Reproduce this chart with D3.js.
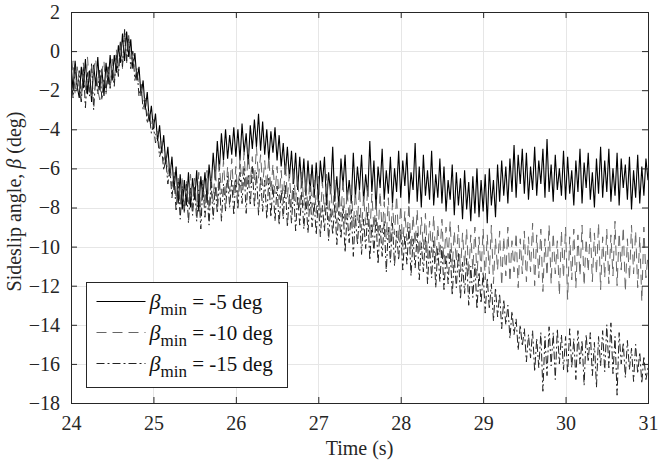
<!DOCTYPE html>
<html>
<head>
<meta charset="utf-8">
<script src="https://d3js.org/d3.v7.min.js"></script>
<style>
  body { margin: 0; background: #fff; }
  svg text { font-family: "Liberation Serif"; fill: #262626; }
</style>
</head>
<body>
<div id="chart"></div>
<script>
// sampling: first sample at 24 s, one sample every 0.025 s
var tStart = 24, tStep = 0.025;

var xTicks = [24, 25, 26, 27, 28, 29, 30, 31];
var yTicks = [2, 0, -2, -4, -6, -8, -10, -12, -14, -16, -18];

var legendLabels = ["-5 deg", "-10 deg", "-15 deg"];

// beta_min = -5 deg
var beta5 = [
  -0.6, -2.0, -0.5, -1.8, -2.4, -0.8, -1.9, -0.4, -2.2, -1.0, -2.6, -0.7, -1.8, -0.3, -2.0, -0.9, -2.3, -0.6, -1.7, -0.2,
  -1.5, -0.2, -1.1, 0.3, -0.6, 0.9, -0.5, 1.0, -0.3, 0.6, -0.9, -0.1, -1.5, -0.8, -2.3, -1.5, -3.0, -2.1, -3.6, -2.8,
  -4.0, -3.2, -4.6, -3.8, -5.2, -4.3, -5.8, -4.9, -6.4, -5.4, -7.1, -5.9, -7.8, -6.3, -8.1, -6.6, -7.9, -6.2, -8.0, -6.5,
  -7.6, -6.1, -8.2, -6.4, -7.5, -6.2, -7.6, -5.8, -7.0, -5.2, -6.6, -4.6, -6.1, -4.2, -5.6, -4.0, -5.5, -4.3, -5.3, -3.9,
  -5.4, -4.0, -5.6, -3.7, -5.2, -4.2, -5.8, -3.8, -5.0, -3.5, -4.9, -3.2, -5.1, -3.6, -5.3, -4.0, -5.6, -4.1, -5.2, -3.9,
  -5.6, -4.3, -5.9, -4.7, -6.3, -4.9, -6.5, -5.1, -6.8, -5.2, -7.1, -5.4, -7.0, -5.5, -7.4, -5.6, -7.2, -5.8, -7.5, -5.7,
  -7.6, -5.6, -6.8, -5.4, -7.9, -6.2, -7.3, -4.9, -7.7, -6.4, -8.0, -5.5, -6.9, -5.3, -7.6, -6.6, -7.8, -5.2, -7.5, -5.9,
  -7.1, -5.3, -7.7, -6.3, -7.4, -4.6, -7.2, -5.6, -8.1, -5.9, -7.0, -5.0, -7.6, -6.1, -7.3, -5.4, -7.8, -6.0, -7.2, -5.1,
  -7.5, -5.6, -6.9, -5.2, -7.8, -6.2, -7.1, -4.7, -7.7, -5.9, -8.0, -5.3, -7.4, -6.1, -7.6, -5.1, -7.9, -6.3, -7.5, -5.5,
  -7.8, -5.9, -8.2, -6.6, -7.6, -5.8, -8.4, -6.2, -7.9, -6.5, -8.6, -6.1, -8.1, -6.7, -8.7, -6.4, -8.3, -6.0, -8.5, -6.6,
  -8.2, -6.3, -8.8, -6.0, -7.9, -6.6, -8.5, -5.8, -7.7, -5.6, -7.4, -5.9, -7.8, -5.5, -7.2, -4.8, -7.5, -5.3, -6.8, -5.0,
  -7.3, -5.2, -7.6, -5.9, -7.1, -4.9, -7.4, -5.6, -6.8, -5.0, -7.5, -4.5, -7.2, -5.8, -7.7, -5.3, -7.1, -6.0, -7.4, -5.1,
  -7.6, -5.4, -7.3, -6.1, -7.9, -5.6, -7.2, -5.0, -7.8, -5.7, -7.0, -5.2, -7.6, -6.2, -8.0, -5.5, -7.3, -4.9, -7.5, -5.6,
  -7.2, -5.0, -7.7, -6.0, -7.4, -5.2, -7.9, -5.5, -7.0, -5.8, -7.6, -5.4, -8.1, -6.1, -7.5, -5.3, -7.8, -5.9, -7.4, -5.5,
  -6.6
];

// beta_min = -10 deg
var beta10 = [
  -1.8, -0.5, -2.2, -0.8, -1.9, -2.6, -0.6, -2.1, -0.3, -1.8, -2.3, -0.9, -0.4, -2.0, -2.5, -1.0, -0.5, -2.2, -0.7, -1.9,
  -0.4, -1.7, 0.1, -1.2, 0.6, -0.9, 1.1, -0.6, 0.7, -0.3, -0.4, -1.0, -1.1, -1.8, -1.9, -2.6, -2.4, -3.3, -3.0, -3.8,
  -3.5, -4.3, -4.1, -5.0, -4.6, -5.6, -5.2, -6.3, -5.7, -6.9, -6.2, -7.6, -6.5, -7.9, -6.4, -8.2, -6.6, -7.8, -6.3, -8.0,
  -6.5, -8.1, -6.2, -8.4, -6.6, -7.9, -6.1, -8.2, -6.4, -7.7, -5.9, -7.8, -5.8, -7.3, -5.6, -7.5, -5.9, -7.2, -5.5, -7.4,
  -5.9, -7.4, -5.5, -6.9, -5.2, -7.1, -5.0, -6.8, -5.4, -6.7, -4.9, -6.5, -5.3, -6.9, -5.6, -7.0, -5.4, -7.2, -5.8, -7.3,
  -5.9, -7.6, -6.1, -7.8, -5.7, -7.5, -6.3, -8.0, -6.0, -7.7, -6.4, -8.1, -6.2, -7.9, -6.5, -8.2, -6.3, -8.0, -6.6, -8.3,
  -6.4, -8.5, -6.7, -8.2, -6.3, -8.7, -6.9, -8.4, -6.6, -8.8, -7.0, -8.5, -6.5, -8.9, -7.1, -8.6, -6.8, -9.0, -7.2, -8.7,
  -7.0, -9.2, -7.4, -8.9, -6.9, -9.4, -7.3, -9.1, -7.6, -9.5, -7.2, -9.3, -7.7, -9.6, -7.5, -9.8, -7.8, -9.4, -7.4, -9.7,
  -7.9, -10.0, -8.2, -9.7, -7.8, -10.2, -8.4, -9.9, -8.1, -10.4, -8.5, -10.1, -8.3, -10.6, -8.7, -10.3, -8.4, -10.8, -8.9, -10.5,
  -8.6, -10.9, -9.0, -10.6, -8.7, -11.1, -9.2, -10.8, -8.9, -11.3, -9.3, -11.0, -9.1, -11.5, -9.4, -11.2, -9.0, -11.6, -9.5, -11.3,
  -9.1, -11.7, -9.4, -11.4, -8.9, -11.9, -9.6, -11.2, -9.2, -12.0, -9.5, -11.5, -9.0, -11.8, -9.7, -11.3, -9.3, -12.1, -9.6, -11.4,
  -9.2, -11.8, -9.5, -11.3, -8.8, -12.0, -9.4, -11.6, -9.1, -12.3, -9.6, -11.5, -8.9, -11.9, -9.3, -11.4, -9.7, -12.5, -9.2, -11.6,
  -9.0, -12.7, -9.5, -11.7, -9.1, -12.1, -9.4, -11.5, -8.9, -12.0, -9.6, -11.3, -9.0, -11.8, -9.3, -11.4, -8.8, -12.2, -9.5, -11.6,
  -9.1, -11.9, -9.4, -11.5, -8.7, -12.0, -9.3, -11.2, -9.0, -12.3, -9.6, -11.7, -8.9, -11.4, -9.2, -12.1, -9.5, -12.8, -9.0, -11.6,
  -10.4
];

// beta_min = -15 deg
var beta15 = [
  -1.2, -2.4, -0.7, -2.0, -1.0, -2.6, -0.8, -2.9, -1.1, -2.3, -0.6, -3.0, -1.3, -2.2, -0.9, -2.5, -1.4, -2.1, -0.8, -1.9,
  -0.9, -1.8, -0.2, -1.3, 0.5, -0.8, 1.1, -0.5, 0.8, -0.9, 0.0, -1.5, -0.9, -2.3, -1.7, -3.0, -2.5, -3.7, -3.2, -4.2,
  -3.8, -4.7, -4.4, -5.4, -5.0, -6.1, -5.5, -6.8, -6.0, -7.5, -6.4, -8.2, -6.7, -8.6, -6.9, -8.3, -6.8, -8.8, -7.0, -8.4,
  -6.9, -8.7, -7.1, -9.1, -6.8, -8.5, -7.2, -8.9, -6.7, -8.6, -6.9, -8.3, -6.5, -8.7, -6.8, -8.2, -6.4, -8.0, -6.6, -8.4,
  -6.5, -8.1, -6.2, -7.8, -6.0, -8.3, -6.3, -7.9, -5.9, -8.0, -6.2, -8.4, -6.4, -8.2, -6.6, -8.6, -6.5, -8.5, -6.8, -8.7,
  -6.9, -8.9, -7.1, -8.6, -6.8, -9.0, -7.3, -8.8, -7.0, -9.2, -7.4, -8.9, -7.2, -9.1, -7.5, -9.3, -7.4, -9.0, -7.7, -9.4,
  -7.6, -9.5, -7.9, -9.2, -7.5, -9.7, -8.0, -9.4, -7.8, -9.9, -8.2, -9.6, -7.9, -10.3, -8.3, -9.8, -8.1, -10.5, -8.4, -9.9,
  -8.3, -10.4, -8.6, -10.1, -8.2, -10.7, -8.8, -10.3, -8.5, -10.9, -8.9, -10.5, -8.7, -11.3, -9.0, -10.8, -8.8, -11.0, -9.2, -10.7,
  -9.1, -11.2, -9.4, -10.9, -9.0, -11.5, -9.6, -11.1, -9.3, -11.7, -9.8, -11.3, -9.5, -11.9, -10.0, -11.6, -9.7, -12.1, -10.1, -11.8,
  -10.0, -12.2, -10.4, -11.9, -10.1, -12.5, -10.6, -12.1, -10.3, -12.7, -10.8, -12.4, -10.6, -13.0, -11.0, -12.6, -10.9, -13.2, -11.3, -12.9,
  -11.3, -13.4, -11.6, -13.2, -11.9, -13.8, -12.1, -13.6, -12.4, -14.2, -12.7, -14.0, -13.0, -14.7, -13.3, -14.5, -13.7, -15.3, -14.0, -15.1,
  -14.2, -15.9, -14.5, -15.7, -14.3, -16.4, -14.7, -16.2, -14.4, -17.4, -14.6, -16.6, -14.1, -16.1, -14.4, -16.8, -14.2, -16.0, -14.5, -16.3,
  -14.6, -16.5, -14.2, -16.2, -14.7, -16.8, -14.3, -16.0, -14.8, -17.1, -14.5, -15.9, -14.4, -16.6, -14.9, -17.2, -14.6, -16.1, -14.3, -16.4,
  -14.0, -16.2, -13.9, -16.5, -14.6, -17.6, -14.4, -16.0, -14.9, -16.7, -14.8, -16.3, -15.2, -16.9, -15.0, -16.5, -15.4, -17.0, -15.6, -16.8,
  -16.2
];

var series = [
  {values: beta5,  color: "#000000", dash: null,      width: 1.1},
  {values: beta10, color: "#666666", dash: "10,6",    width: 1},
  {values: beta15, color: "#222222", dash: "8,3,2,3", width: 1}
];

var margin = {top: 12, right: 13, bottom: 63, left: 71},
    width = 661 - margin.left - margin.right,
    height = 466 - margin.top - margin.bottom;

var svg = d3.select("#chart")
  .append("svg")
    .attr("width", 661)
    .attr("height", 466)
    .attr("font-family", "Liberation Serif")
  .append("g")
    .attr("transform", "translate(" + margin.left + "," + margin.top + ")");

var x = d3.scaleLinear().domain([24, 31]).range([0, width]);
var y = d3.scaleLinear().domain([-18, 2]).range([height, 0]);

// grid
svg.append("g")
  .selectAll("line")
  .data(xTicks)
  .enter().append("line")
    .attr("x1", function(d) { return Math.round(x(d)) + 0.5; })
    .attr("x2", function(d) { return Math.round(x(d)) + 0.5; })
    .attr("y1", 0).attr("y2", height)
    .style("stroke", "#e6e6e6");
svg.append("g")
  .selectAll("line")
  .data(yTicks)
  .enter().append("line")
    .attr("y1", function(d) { return Math.round(y(d)) + 0.5; })
    .attr("y2", function(d) { return Math.round(y(d)) + 0.5; })
    .attr("x1", 0).attr("x2", width)
    .style("stroke", "#e6e6e6");

// data lines
svg.append("clipPath").attr("id", "clip")
  .append("rect").attr("width", width).attr("height", height);

var line = d3.line()
  .x(function(d, i) { return x(tStart + i * tStep); })
  .y(function(d) { return y(d); });

svg.append("g").attr("clip-path", "url(#clip)")
  .selectAll("path")
  .data(series)
  .enter().append("path")
    .attr("d", function(s) { return line(s.values); })
    .style("fill", "none")
    .style("stroke", function(s) { return s.color; })
    .style("stroke-width", function(s) { return s.width; })
    .style("stroke-dasharray", function(s) { return s.dash; });

// axes: ticks pointing inward on all four sides
function styleAxis(g) {
  g.attr("font-family", "Liberation Serif").attr("font-size", 20);
  g.select(".domain").remove();
  g.selectAll(".tick line").style("stroke", "#262626");
  g.selectAll(".tick text").attr("font-family", "Liberation Serif").style("fill", "#262626");
}

svg.append("g")
  .attr("transform", "translate(0," + height + ")")
  .call(d3.axisBottom(x).tickValues(xTicks).tickSizeInner(-6).tickSizeOuter(0).tickPadding(13).tickFormat(d3.format("d")))
  .call(styleAxis);
svg.append("g")
  .call(d3.axisTop(x).tickValues(xTicks).tickSizeInner(-6).tickSizeOuter(0).tickFormat(""))
  .call(styleAxis);
svg.append("g")
  .call(d3.axisLeft(y).tickValues(yTicks).tickSizeInner(-6).tickSizeOuter(0).tickPadding(11).tickFormat(d3.format("d")))
  .call(styleAxis);
svg.append("g")
  .attr("transform", "translate(" + width + ",0)")
  .call(d3.axisRight(y).tickValues(yTicks).tickSizeInner(-6).tickSizeOuter(0).tickFormat(""))
  .call(styleAxis);

// box
svg.append("rect")
  .attr("x", 0.5).attr("y", 0.5)
  .attr("width", Math.round(width)).attr("height", Math.round(height))
  .style("fill", "none")
  .style("stroke", "#262626");

// axis labels
svg.append("text")
  .attr("x", width / 2)
  .attr("y", height + 52)
  .attr("text-anchor", "middle")
  .attr("font-size", 20)
  .text("Time (s)");

var ylab = svg.append("text")
  .attr("transform", "translate(" + (-50) + "," + (height / 2 - 6) + ") rotate(-90)")
  .attr("text-anchor", "middle")
  .attr("font-size", 20);
ylab.append("tspan").text("Sideslip angle, ");
ylab.append("tspan").style("font-style", "italic").text("\u03b2");
ylab.append("tspan").text(" (deg)");

// legend
var lg = svg.append("g").attr("transform", "translate(" + (86.5 - margin.left) + "," + (282.5 - margin.top) + ")");
lg.append("rect")
  .attr("width", 201).attr("height", 105)
  .style("fill", "#fff")
  .style("stroke", "#262626");

var rows = lg.selectAll(".row")
  .data(series)
  .enter().append("g")
    .attr("class", "row")
    .attr("transform", function(d, i) { return "translate(0," + (19 + i * 31) + ")"; });

rows.append("line")
  .attr("x1", 10).attr("x2", 59)
  .attr("y1", 0).attr("y2", 0)
  .style("stroke", function(s) { return s.color; })
  .style("stroke-width", 1)
  .style("stroke-dasharray", function(s) { return s.dash; });

var lt = rows.append("text")
  .attr("x", 63)
  .attr("y", 7)
  .attr("font-size", 21)
  .style("fill", "#111");
lt.append("tspan").style("font-style", "italic").attr("font-size", 22).text("\u03b2");
lt.append("tspan").attr("dy", 6).attr("font-size", 17).text("min");
lt.append("tspan").attr("dy", -6).text(function(d, i) { return " = " + legendLabels[i]; });
</script>
</body>
</html>
